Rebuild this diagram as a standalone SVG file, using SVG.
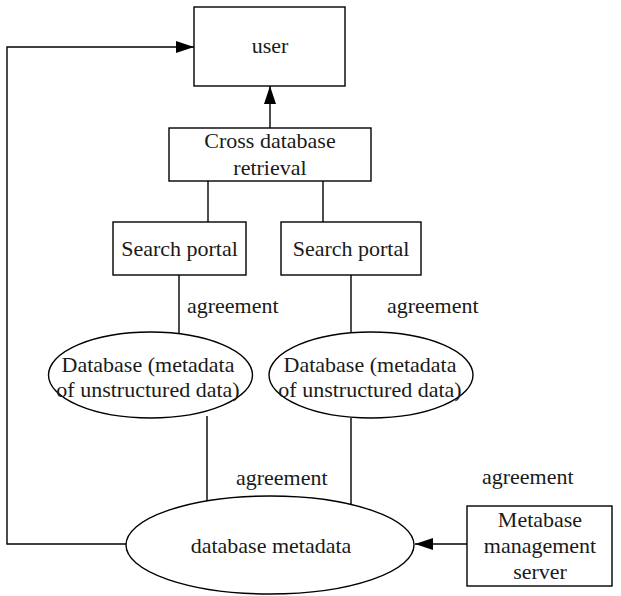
<svg xmlns="http://www.w3.org/2000/svg" width="621" height="596" viewBox="0 0 621 596">
<style>
.box{fill:#fff;stroke:#000;stroke-width:1.4}
.ln{fill:none;stroke:#000;stroke-width:1.4}
text{font-family:"Liberation Serif","Times New Roman",serif;font-size:22px;fill:#1a1a1a}
.c{text-anchor:middle}
</style>
<defs>
<marker id="ah" markerWidth="18" markerHeight="12" refX="18" refY="6" orient="auto" markerUnits="userSpaceOnUse">
<path d="M0,0 L18,6 L0,12 Z" fill="#000"/>
</marker>
</defs>
<g id="connectors">
<path class="ln" d="M126,544 H7 V47 H194" marker-end="url(#ah)"/>
<path class="ln" d="M270,128 V86" marker-end="url(#ah)"/>
<path class="ln" d="M208,181 V222"/>
<path class="ln" d="M323,181 V222"/>
<path class="ln" d="M179,275 V334"/>
<path class="ln" d="M351,275 V332"/>
<path class="ln" d="M207,416 V501"/>
<path class="ln" d="M351,418 V504"/>
<path class="ln" d="M467,544 H415" marker-end="url(#ah)"/>
<text x="187" y="313">agreement</text>
<text x="387" y="313">agreement</text>
<text x="236" y="485">agreement</text>
<text x="482" y="484">agreement</text>
</g>
<g id="user">
<rect class="box" x="194" y="7" width="151" height="79"/>
<text class="c" x="270" y="53">user</text>
</g>
<g id="cross">
<rect class="box" x="169" y="128" width="202" height="53"/>
<text class="c" x="270" y="148">Cross database</text>
<text class="c" x="270" y="175">retrieval</text>
</g>
<g id="portal1">
<rect class="box" x="113" y="222" width="133" height="53"/>
<text class="c" x="179.5" y="256">Search portal</text>
</g>
<g id="portal2">
<rect class="box" x="281" y="222" width="140" height="53"/>
<text class="c" x="351" y="256">Search portal</text>
</g>
<g id="db1">
<ellipse class="box" cx="150.5" cy="375" rx="102" ry="43"/>
<text class="c" x="148" y="372">Database (metadata</text>
<text class="c" x="148" y="397">of unstructured data)</text>
</g>
<g id="db2">
<ellipse class="box" cx="371" cy="375" rx="102" ry="43"/>
<text class="c" x="370" y="372">Database (metadata</text>
<text class="c" x="370" y="397">of unstructured data)</text>
</g>
<g id="dbmeta">
<ellipse class="box" cx="270" cy="545" rx="144" ry="49"/>
<text class="c" x="271" y="553">database metadata</text>
</g>
<g id="server">
<rect class="box" x="467" y="506" width="145" height="80"/>
<text class="c" x="540" y="527">Metabase</text>
<text class="c" x="540" y="553">management</text>
<text class="c" x="540" y="579">server</text>
</g>
</svg>
